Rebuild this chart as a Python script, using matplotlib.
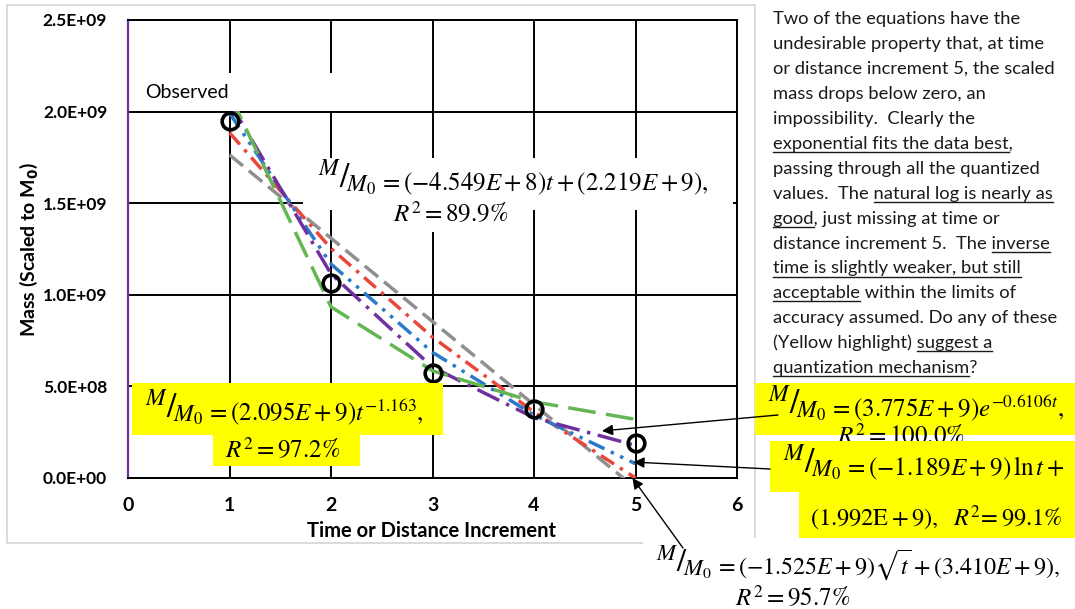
import numpy as np
import matplotlib
matplotlib.use('Agg')
import matplotlib.pyplot as plt
from matplotlib.patches import Rectangle
from matplotlib.ticker import FuncFormatter

plt.rcParams['mathtext.fontset'] = 'stix'
plt.rcParams['font.family'] = ['Lato', 'DejaVu Sans']

# data (scaled mass vs time / distance increment)
t = [1, 2, 3, 4, 5]
observed = [1.95e9, 1.065e9, 0.573e9, 0.377e9, 0.19e9]
linear_fit = [1.764e9, 1.309e9, 0.854e9, 0.400e9, -0.055e9]
sqrt_fit = [1.885e9, 1.253e9, 0.769e9, 0.360e9, 0.000e9]
ln_fit = [1.992e9, 1.168e9, 0.686e9, 0.344e9, 0.078e9]
exp_fit = [2.051e9, 1.114e9, 0.605e9, 0.329e9, 0.178e9]
power_fit = [2.095e9, 0.934e9, 0.585e9, 0.416e9, 0.320e9]

x_ticks = [0, 1, 2, 3, 4, 5, 6]
y_ticks = [0, 0.5e9, 1.0e9, 1.5e9, 2.0e9, 2.5e9]

W, H = 1075, 609
fig = plt.figure(figsize=(W / 100, H / 100), dpi=100)
ax = fig.add_axes([128 / W, 1 - 478 / H, (737 - 128) / W, (478 - 20) / H])

# fitted curves
ax.plot(t, linear_fit, color='#8f8f8f', lw=2.5, dashes=(5, 2.2), zorder=3)
ax.plot(t, sqrt_fit, color='#e8473a', lw=2.5, dashes=(4.5, 2, 1, 2), zorder=3)
ax.plot(t, ln_fit, color='#2a7ac9', lw=2.5, dashes=(5, 2, 1, 2, 1, 2), zorder=3)
ax.plot(t, exp_fit, color='#7030a0', lw=2.5, dashes=(7, 2.2, 1, 2.2), zorder=3)
ax.plot(t, power_fit, color='#64b654', lw=2.5, dashes=(8, 3), zorder=3)
ax.plot(t, observed, 'o', ms=12, mfc='none', mec='black', mew=2.6, zorder=4)

ax.set_xlim(0, 6)
ax.set_ylim(0, 2.5e9)
ax.set_xticks(x_ticks)
ax.set_yticks(y_ticks)
ax.yaxis.set_major_formatter(FuncFormatter(lambda v, p: f'{v:.1E}'))
ax.grid(True, color='black', lw=1.4)
ax.set_axisbelow(True)
ax.tick_params(length=0)
ax.tick_params(axis='y', pad=15, labelsize=12.5)
ax.tick_params(axis='x', pad=14, labelsize=14)
for lab in ax.get_xticklabels() + ax.get_yticklabels():
    lab.set_fontweight('bold')
for s in ['top', 'right', 'bottom']:
    ax.spines[s].set_color('black')
    ax.spines[s].set_linewidth(1.4)
ax.spines['left'].set_color('#7030a0')
ax.spines['left'].set_linewidth(1.6)

ax.set_xlabel('Time or Distance Increment', fontsize=14.5, fontweight='bold')
ax.xaxis.set_label_coords(0.499, -0.093)
ax.set_ylabel(r'Mass (Scaled to M$_\mathbf{0}$)', fontsize=14, fontweight='bold',
              math_fontfamily='dejavusans')
ax.yaxis.set_label_coords(-0.145, 0.5)

# overlay in pixel coordinates for text boxes and notes
ov = fig.add_axes([0, 0, 1, 1])
ov.set_xlim(0, W)
ov.set_ylim(H, 0)
ov.axis('off')
ov.patch.set_alpha(0)
renderer = fig.canvas.get_renderer()


def box(x0, y0, x1, y1, color, z=2):
    ov.add_patch(Rectangle((x0, y0), x1 - x0, y1 - y0, facecolor=color,
                           edgecolor='none', zorder=z))


eq_fs = 18


def eq(x, y, rest, z=3, fs=eq_fs):
    # big M/M0 prefix, then the rest of the equation
    p = ov.text(x, y - 2, r'${}^{M}/_{\!M_0}$', fontsize=fs * 1.35, va='baseline', zorder=z)
    w = p.get_window_extent(renderer).width
    ov.text(x + w + 3, y, '$' + rest + '$', fontsize=fs, va='baseline', zorder=z)


# chart frame
ov.add_patch(Rectangle((7, 5), 748, 538, facecolor='none', edgecolor='#d4d4d4',
                       lw=1.2, zorder=1))

box(130, 73, 380, 111, 'white')
ov.text(145, 92, 'Observed', fontsize=14, va='center', zorder=3)

# linear
box(303, 158, 733, 210, 'white')
box(380, 205, 530, 232, 'white')
eq(318, 190, r'= (-4.549E+8)t + (2.219E+9),')
ov.text(393, 221, r'$R^2 = 89.9\%$', fontsize=eq_fs, va='baseline', zorder=3)

# power
box(132, 383, 443, 435, 'yellow')
box(213, 435, 360, 466, 'yellow')
eq(145, 420, r'= (2.095E+9)t^{-1.163},')
ov.text(225, 457, r'$R^2 = 97.2\%$', fontsize=eq_fs, va='baseline', zorder=3)

# exponential
box(755, 383, 1075, 435, 'yellow')
box(825, 435, 983, 441, 'white')
eq(768, 416, r'= (3.775E+9)e^{-0.6106t},')
ov.text(837, 444, r'$R^2 = 100.0\%$', fontsize=eq_fs, va='baseline', zorder=3)

# natural log (drawn over the exponential R^2 line)
box(770, 441, 1075, 492, 'yellow', z=4)
box(799, 492, 1075, 538, 'yellow', z=4)
eq(783, 475, r'= (-1.189E+9)\,\ln t + ', z=5)
ov.text(810, 526, r'$(1.992\mathrm{E}+9),\ \ R^2\!= 99.1\%$', fontsize=17.6, va='baseline', zorder=5)

# square root
box(643, 538, 1075, 609, 'white')
eq(656, 574, r'= (-1.525E+9)\sqrt{t} + (3.410E+9),', fs=17.3)
ov.text(735, 605, r'$R^2 = 95.7\%$', fontsize=eq_fs, va='baseline', zorder=3)

# arrows from equations to the curves at t = 5
arrow = dict(arrowstyle='-|>', color='black', lw=1.0, mutation_scale=16, shrinkA=0, shrinkB=0)
ov.annotate('', xy=(4.67, 0.257e9), xycoords=ax.transData, xytext=(778, 415),
            textcoords=ov.transData, arrowprops=arrow, zorder=6)
ov.annotate('', xy=(4.98, 0.087e9), xycoords=ax.transData, xytext=(770, 469),
            textcoords=ov.transData, arrowprops=arrow, zorder=6)
ov.annotate('', xy=(4.97, 0.0), xycoords=ax.transData, xytext=(683, 548),
            textcoords=ov.transData, arrowprops=arrow, zorder=6)

# right-hand commentary, (text, underlined) pieces per line
para = [
    [('Two of the equations have the', False)],
    [('undesirable property that, at time', False)],
    [('or distance increment 5, the scaled', False)],
    [('mass drops below zero, an', False)],
    [('impossibility.  Clearly the', False)],
    [('exponential fits the data best', True), (',', False)],
    [('passing through all the quantized', False)],
    [('values.  The ', False), ('natural log is nearly as', True)],
    [('good', True), (', just missing at time or', False)],
    [('distance increment 5.  The ', False), ('inverse', True)],
    [('time is slightly weaker, but still', True)],
    [('acceptable', True), (' within the limits of', False)],
    [('accuracy assumed. Do any of these', False)],
    [('(Yellow highlight) ', False), ('suggest a', True)],
    [('quantization mechanism', True), ('?', False)],
]
para_fs = 13.2


def width(s):
    tt = ov.text(0, 0, s + '|', fontsize=para_fs)
    w1 = tt.get_window_extent(renderer).width
    tt.set_text('|')
    w2 = tt.get_window_extent(renderer).width
    tt.remove()
    return w1 - w2


x0, y0, dy = 773, 24, 24.95
for i, pieces in enumerate(para):
    y = y0 + i * dy
    full = ''.join(p for p, u in pieces)
    ov.text(x0, y, full, fontsize=para_fs, va='baseline', color='#1a1a1a')
    prefix = ''
    for p, u in pieces:
        if u:
            xa = x0 + width(prefix)
            xb = x0 + width(prefix + p)
            ov.plot([xa, xb], [y + 3, y + 3], color='#1a1a1a', lw=1.0)
        prefix += p

fig.savefig('out.png', dpi=100)
